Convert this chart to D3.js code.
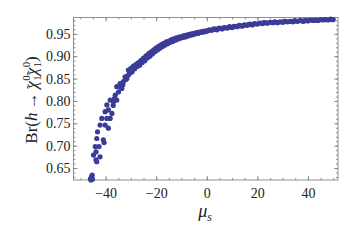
<!DOCTYPE html>
<html>
<head>
<meta charset="utf-8">
<script src="https://cdn.jsdelivr.net/npm/d3@7"></script>
<style>
  body { margin: 0; background: #fff; }
  text { font-family: "Liberation Serif", "DejaVu Serif", serif; }
</style>
</head>
<body>
<svg id="chart" width="356" height="245"></svg>
<script>
// scan points: mu_s and Br(h -> chi chi)
const muValues = [
  -46.0, -45.6, -45.3, -45.8, -45.2, -44.8, -43.8, -43.5, -44.1, -43.8,
  -42.2, -42.6, -43.5, -43.2, -42.2, -40.9, -40.6, -41.5, -40.2, -38.9,
  -39.5, -38.2, -40.2, -38.9, -37.5, -39.5, -38.2, -36.9, -35.6, -36.2,
  -34.9, -35.6, -34.3, -33.6, -33.0, -32.3, -31.0, -31.0, -29.6, -29.0,
  -37.0, -36.5, -34.0, -33.2, -32.0, -31.6, -30.5, -30.2,
  -30.0, -29.5, -29.0, -28.5, -28.0, -27.5, -27.0, -26.5, -26.0, -25.5,
  -25.0, -24.5, -24.0, -23.5, -23.0, -22.5, -22.0, -21.5, -21.0, -20.5,
  -20.0, -19.5, -19.0, -18.5, -18.0, -17.5, -17.0, -16.5, -16.0, -15.5,
  -15.0, -14.5, -14.0, -13.5, -13.0, -12.5, -12.0, -11.5, -11.0, -10.5,
  -10.0, -9.5, -9.0, -8.5, -8.0, -7.5, -7.0, -6.5, -6.0, -5.5,
  -5.0, -4.5, -4.0, -3.5, -3.0, -2.5, -2.0, -1.5, -1.0, -0.5, 0.0,
  -27.2, -24.8, -22.2, -19.8, -17.2, -14.8,
  1, 2, 3, 4, 5, 6, 7, 8, 9, 10,
  11, 12, 13, 14, 15, 16, 17, 18, 19, 20,
  21, 22, 23, 24, 25, 26, 27, 28, 29, 30,
  31, 32, 33, 34, 35, 36, 37, 38, 39, 40,
  41, 42, 43, 44, 45, 46, 47, 48, 49, 50,
  0.5, 2.5, 4.5, 6.5, 8.5, 10.5, 12.5, 14.5, 16.5, 18.5,
  22.5, 26.5, 30.5, 34.5, 38.5, 42.5, 46.5, 49.5
];
const brValues = [
  0.626, 0.630, 0.634, 0.623, 0.625, 0.679, 0.668, 0.664, 0.698, 0.686,
  0.675, 0.698, 0.716, 0.731, 0.746, 0.713, 0.707, 0.761, 0.746, 0.739,
  0.761, 0.761, 0.776, 0.780, 0.772, 0.791, 0.802, 0.798, 0.802, 0.813,
  0.820, 0.832, 0.839, 0.828, 0.843, 0.854, 0.858, 0.869, 0.865, 0.876,
  0.790, 0.805, 0.830, 0.836, 0.848, 0.850, 0.862, 0.866,
  0.873, 0.868, 0.878, 0.872, 0.882, 0.877, 0.886, 0.880, 0.891, 0.886,
  0.896, 0.890, 0.901, 0.896, 0.906, 0.900, 0.910, 0.905, 0.914, 0.910,
  0.919, 0.914, 0.922, 0.918, 0.926, 0.922, 0.929, 0.925, 0.932, 0.928,
  0.934, 0.931, 0.937, 0.933, 0.939, 0.936, 0.941, 0.938, 0.943, 0.940,
  0.944, 0.942, 0.946, 0.943, 0.947, 0.945, 0.949, 0.947, 0.950, 0.948,
  0.951, 0.950, 0.953, 0.951, 0.954, 0.953, 0.955, 0.954, 0.956, 0.955, 0.957,
  0.883, 0.893, 0.906, 0.916, 0.927, 0.932,
  0.959, 0.958, 0.961, 0.959, 0.963, 0.961, 0.964, 0.963, 0.966, 0.964,
  0.967, 0.966, 0.969, 0.967, 0.970, 0.969, 0.972, 0.970, 0.973, 0.972,
  0.974, 0.973, 0.975, 0.974, 0.976, 0.975, 0.977, 0.975, 0.977, 0.976,
  0.978, 0.977, 0.978, 0.977, 0.979, 0.978, 0.980, 0.978, 0.980, 0.979,
  0.981, 0.980, 0.981, 0.980, 0.982, 0.981, 0.982, 0.981, 0.983, 0.982,
  0.957, 0.960, 0.962, 0.963, 0.964, 0.966, 0.968, 0.969, 0.971, 0.972,
  0.975, 0.976, 0.977, 0.979, 0.979, 0.980, 0.982, 0.982
];

const xTicks = [-40, -20, 0, 20, 40];
const yTicks = [0.65, 0.70, 0.75, 0.80, 0.85, 0.90, 0.95];

const svg = d3.select("#chart");
const plotLeft = 73.5, plotRight = 338, plotTop = 17.5, plotBottom = 180;

const x = d3.scaleLinear().domain([-52.7, 51.9]).range([plotLeft, plotRight]);
const y = d3.scaleLinear().domain([0.6232, 0.9866]).range([plotBottom, plotTop]);

const frameColor = "#777";
const serif = "'Liberation Serif', 'DejaVu Serif', serif";

// minor ticks (every 5 in x, every 0.01 in y)
const xMinor = d3.range(-50, 51, 5);
const yMinor = d3.range(63, 99).map(v => v / 100);

function tickAxis(axis, transform, size, values, labels) {
  let g = svg.append("g").attr("transform", transform)
    .call(axis.tickValues(values).tickSize(size).tickSizeOuter(0)
      .tickFormat(labels ? labels : ""));
  g.select(".domain").remove();
  g.attr("font-family", serif);
  g.selectAll(".tick line").attr("stroke", frameColor).attr("stroke-width", 0.8);
  return g;
}

// bottom / top
tickAxis(d3.axisBottom(x), "translate(0," + plotBottom + ")", -2, xMinor);
tickAxis(d3.axisTop(x), "translate(0," + plotTop + ")", -2, xMinor);
let gx = tickAxis(d3.axisBottom(x), "translate(0," + plotBottom + ")", -4, xTicks,
  d => d < 0 ? "\u2212" + Math.abs(d) : d);
tickAxis(d3.axisTop(x), "translate(0," + plotTop + ")", -4, xTicks);

// left / right
tickAxis(d3.axisLeft(y), "translate(" + plotLeft + ",0)", -2, yMinor);
tickAxis(d3.axisRight(y), "translate(" + plotRight + ",0)", -2, yMinor);
let gy = tickAxis(d3.axisLeft(y), "translate(" + plotLeft + ",0)", -4, yTicks, d3.format(".2f"));
tickAxis(d3.axisRight(y), "translate(" + plotRight + ",0)", -4, yTicks);

gx.selectAll("text").attr("y", 8).attr("dy", "0.71em")
  .style("font-size", "14px").style("font-family", serif).attr("fill", "#222");
gy.selectAll("text").attr("x", -3).attr("dy", "0.32em")
  .style("font-size", "14px").style("font-family", serif).attr("fill", "#222");

// frame
svg.append("rect")
  .attr("x", plotLeft).attr("y", plotTop)
  .attr("width", plotRight - plotLeft).attr("height", plotBottom - plotTop)
  .attr("fill", "none").attr("stroke", frameColor).attr("stroke-width", 0.8);

// points
const pts = muValues.map((m, i) => ({ mu: m, br: brValues[i] }));
svg.append("g").selectAll("circle")
  .data(pts)
  .enter().append("circle")
  .attr("cx", d => x(d.mu))
  .attr("cy", d => y(d.br))
  .attr("r", 2.6)
  .attr("fill", "#3b3b98");

// x label
let xl = svg.append("text")
  .attr("x", 205).attr("y", 217)
  .attr("text-anchor", "middle")
  .style("font-size", "18px").attr("fill", "#222");
xl.append("tspan").style("font-style", "italic").text("\u03bc");
xl.append("tspan").style("font-style", "italic").style("font-size", "12px").attr("dy", 4).text("s");

// y label
let yl = svg.append("text")
  .attr("transform", "translate(37,100) rotate(-90)")
  .attr("text-anchor", "middle")
  .style("font-size", "17px").attr("fill", "#222");
yl.append("tspan").text("Br(");
yl.append("tspan").style("font-style", "italic").text("h");
yl.append("tspan").text("\u2009\u2192\u2009");
function chi(first) {
  yl.append("tspan").style("font-style", "italic").attr("dy", first ? 0 : -4).text("\u03c7");
  yl.append("tspan").style("font-size", "15px").attr("dx", -7.5).attr("dy", 0).text("\u02dc");
  yl.append("tspan").style("font-size", "11px").attr("dx", 3).attr("dy", -7).text("0");
  yl.append("tspan").style("font-size", "11px").attr("dx", -5.6).attr("dy", 11).text("1");
}
chi(true);
chi(false);
yl.append("tspan").attr("dy", -4).text(")");
</script>
</body>
</html>
